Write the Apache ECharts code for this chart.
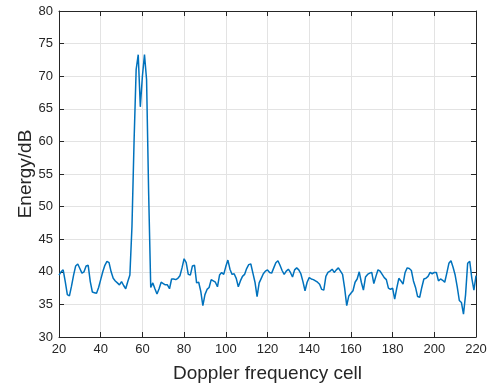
<!DOCTYPE html>
<html>
<head>
<meta charset="utf-8">
<script src="https://cdn.jsdelivr.net/npm/echarts@6/dist/echarts.min.js"></script>
<style>html,body{margin:0;padding:0;background:#fff;}#c{width:494px;height:388px;}</style>
</head>
<body>
<div id="c"></div>
<script>
const cellStart = 20;
const energy = [
39.5,40.0,40.3,38.5,36.5,36.3,37.8,39.5,40.9,41.2,
40.5,39.8,40.0,40.9,41.0,38.5,36.9,36.8,36.7,37.6,
38.8,40.0,41.0,41.6,41.4,40.0,39.0,38.6,38.3,38.0,
38.5,37.9,37.4,38.5,39.5,47.0,60.0,71.0,73.3,65.3,
70.0,73.3,69.5,52.0,37.6,38.3,37.4,36.6,37.4,38.4,
38.2,38.0,38.0,37.4,38.9,38.9,38.8,39.0,39.4,40.6,
42.0,41.4,39.6,39.5,40.9,41.0,38.3,38.4,37.0,34.8,
36.5,37.3,37.6,38.8,38.6,38.4,37.7,39.5,39.9,39.6,
40.8,41.8,40.4,39.6,39.7,39.0,37.7,38.6,39.3,39.6,
40.5,41.1,41.2,39.8,38.4,36.2,38.3,39.0,39.7,40.1,
40.3,39.9,39.8,40.6,41.4,41.7,41.0,40.2,39.6,40.1,
40.4,39.9,39.2,40.3,40.6,40.3,39.7,38.5,37.1,38.4,
39.1,38.9,38.8,38.6,38.4,38.1,37.3,37.2,39.3,39.9,
40.1,40.4,39.9,40.3,40.6,40.1,39.6,37.5,34.8,36.3,
36.7,37.1,38.4,38.9,40.0,38.4,37.2,39.2,39.6,39.8,
39.9,38.2,39.3,40.3,40.1,39.6,39.1,38.8,37.5,37.3,
37.5,35.8,37.5,39.0,38.6,38.1,39.9,40.6,40.5,40.2,
38.6,37.6,36.2,36.1,37.6,38.9,39.0,39.3,39.9,39.7,
39.9,39.9,38.6,38.9,38.7,38.4,39.8,41.3,41.7,40.7,
39.5,37.7,35.6,35.3,33.5,36.5,41.3,41.6,39.0,37.2,
39.4
];
const xTicks = {min: 20, max: 220, interval: 20};
const yTicks = {min: 30, max: 80, interval: 5};
const xLabel = 'Doppler frequency cell';
const yLabel = 'Energy/dB';

const points = energy.map((v, i) => [cellStart + i, v]);
const font = 'Liberation Sans, Arial, Helvetica, sans-serif';
const axisCol = '#262626';
const chart = echarts.init(document.getElementById('c'), null, {renderer: 'canvas'});
const tickInside = {show: true, inside: true, length: 5, lineStyle: {color: axisCol, width: 1}};
chart.setOption({
  animation: false,
  backgroundColor: '#fff',
  grid: {left: 59, right: 18, top: 11, bottom: 51, containLabel: false},
  xAxis: [{
    type: 'value', min: xTicks.min, max: xTicks.max, interval: xTicks.interval,
    name: xLabel, nameLocation: 'middle', nameGap: 27, nameMoveOverlap: false,
    nameTextStyle: {fontFamily: font, fontSize: 19, color: axisCol},
    axisLine: {show: true, onZero: false, lineStyle: {color: axisCol, width: 1}},
    axisTick: tickInside,
    axisLabel: {fontFamily: font, fontSize: 13, color: axisCol, margin: 6},
    splitLine: {show: true, lineStyle: {color: '#e3e3e3', width: 1}}
  }, {
    type: 'value', position: 'top', min: xTicks.min, max: xTicks.max, interval: xTicks.interval,
    axisLine: {show: true, onZero: false, lineStyle: {color: axisCol, width: 1}},
    axisTick: tickInside, axisLabel: {show: false}, splitLine: {show: false}
  }],
  yAxis: [{
    type: 'value', min: yTicks.min, max: yTicks.max, interval: yTicks.interval,
    name: yLabel, nameLocation: 'middle', nameGap: 24, nameMoveOverlap: false,
    nameTextStyle: {fontFamily: font, fontSize: 19, color: axisCol},
    axisLine: {show: true, onZero: false, lineStyle: {color: axisCol, width: 1}},
    axisTick: tickInside,
    axisLabel: {fontFamily: font, fontSize: 13, color: axisCol, margin: 6},
    splitLine: {show: true, lineStyle: {color: '#e3e3e3', width: 1}}
  }, {
    type: 'value', position: 'right', min: yTicks.min, max: yTicks.max, interval: yTicks.interval,
    axisLine: {show: true, onZero: false, lineStyle: {color: axisCol, width: 1}},
    axisTick: tickInside, axisLabel: {show: false}, splitLine: {show: false}
  }],
  series: [{
    type: 'line', data: points, showSymbol: false, symbol: 'none',
    lineStyle: {color: '#0072BD', width: 1.5}, xAxisIndex: 0, yAxisIndex: 0
  }]
});
</script>
</body>
</html>
